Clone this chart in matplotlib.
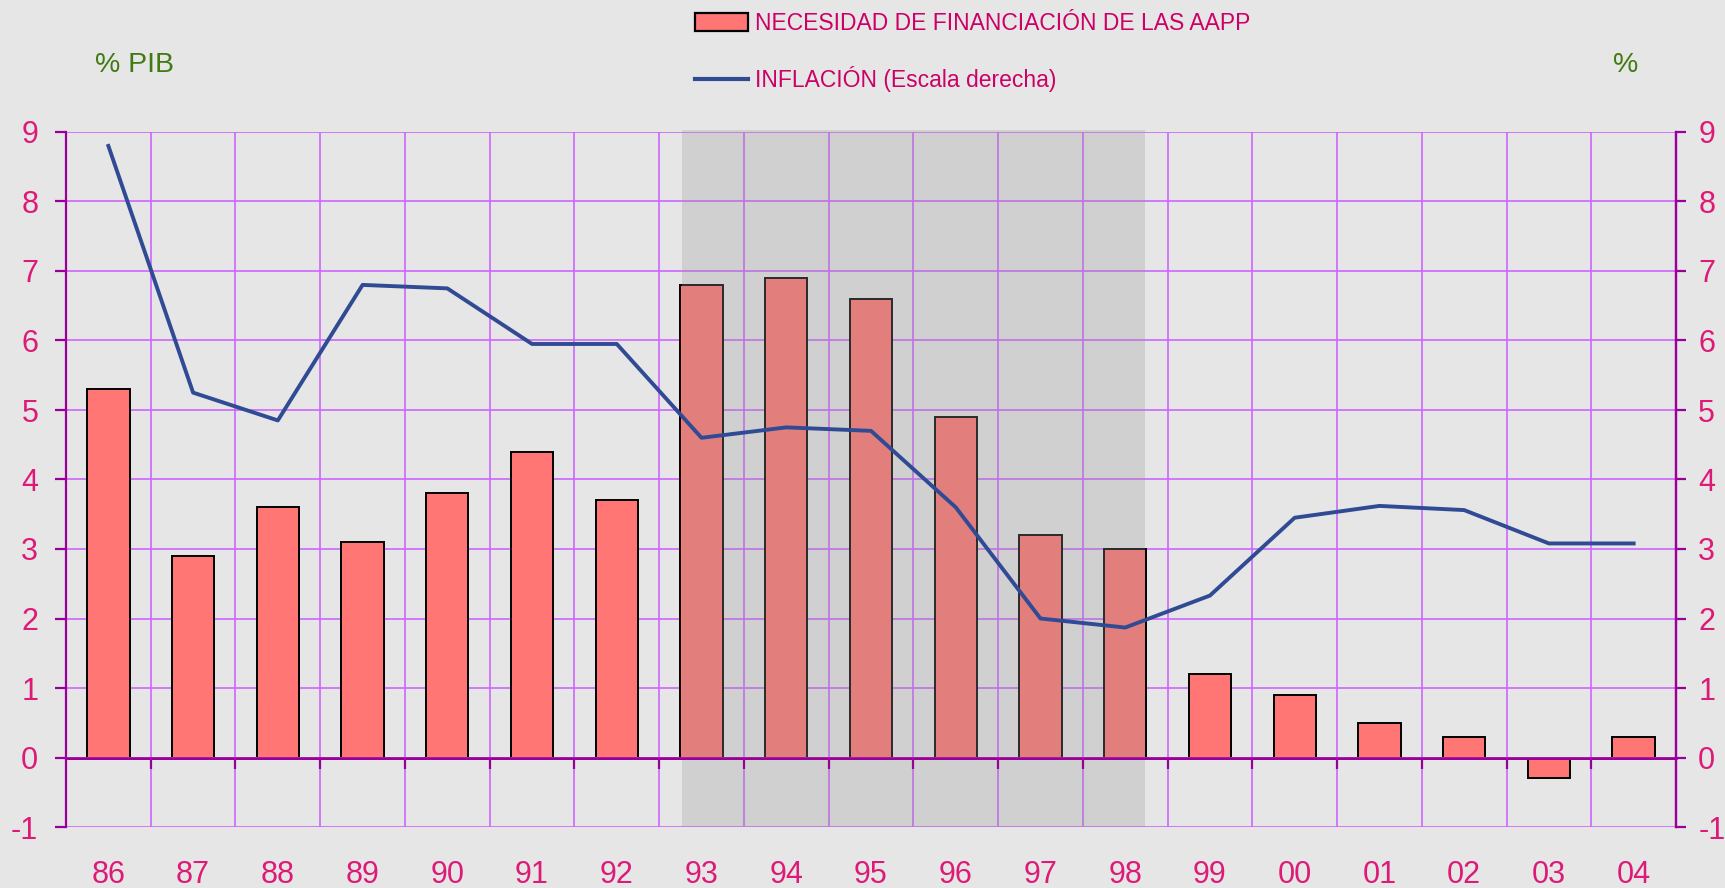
import matplotlib
matplotlib.use("Agg")
import matplotlib.pyplot as plt
from matplotlib.patches import Patch
from matplotlib.lines import Line2D

years = ["86", "87", "88", "89", "90", "91", "92", "93", "94", "95",
         "96", "97", "98", "99", "00", "01", "02", "03", "04"]
necesidad = [5.3, 2.9, 3.6, 3.1, 3.8, 4.4, 3.7, 6.8, 6.9, 6.6,
             4.9, 3.2, 3.0, 1.2, 0.9, 0.5, 0.3, -0.3, 0.3]
inflacion = [8.8, 5.25, 4.85, 6.8, 6.75, 5.95, 5.95, 4.6, 4.75, 4.7,
             3.6, 2.0, 1.87, 2.33, 3.45, 3.62, 3.56, 3.08, 3.08]
yticks = list(range(-1, 10))
shade_from, shade_to = "93", "98"

BG = "#e6e6e6"
GRID = "#cc66ff"
DARK = "#990099"
TICKC = "#dd1a77"
LEGC = "#cc0066"
GREEN = "#3f7a12"
BAR = "#ff7674"
LINE = "#304b94"

plt.rcParams['font.family'] = ['Liberation Sans', 'DejaVu Sans']

W, H = 1725, 888
L, R, T, B = 66, 1676, 132, 827
fig = plt.figure(figsize=(W/100, H/100), dpi=100, facecolor=BG)
ax = fig.add_axes([L/W, 1-B/H, (R-L)/W, (B-T)/H])
ax.set_facecolor(BG)

x = list(range(len(years)))
bw = 0.5
ax.bar(x, necesidad, width=bw, color=BAR, edgecolor="black", linewidth=1.4, zorder=2)

i0 = years.index(shade_from)
i1 = years.index(shade_to)
ax.axvspan(i0 - bw/2 + 0.02, i1 + bw/2 - 0.02, ymin=0, ymax=1.003,
           color=(151/255, 151/255, 151/255),
           alpha=0.28, zorder=3, linewidth=0, clip_on=False)
ax.axhline(0, color=DARK, linewidth=2.0, zorder=4)

ax.set_xlim(-0.5, len(years) - 0.5)
ax.set_ylim(-1, 9)
ax.set_yticks(yticks)
ax.set_yticklabels([str(v) for v in yticks])
ax.set_xticks(x)
ax.set_xticklabels(years)
ax.set_xticks([i + 0.5 for i in x[:-1]], minor=True)
ax.set_axisbelow(True)
ax.grid(True, which="minor", axis="x", color=GRID, linewidth=1.2, zorder=0)
ax.grid(True, which="major", axis="y", color=GRID, linewidth=1.2, zorder=0)
ax.tick_params(axis="x", which="both", length=0, labelsize=22, labelcolor=TICKC, pad=24)
ax.tick_params(axis="y", which="major", direction="out", length=8, width=1.6,
               color=DARK, labelsize=22, labelcolor=TICKC, pad=12)
for s in ["top", "bottom"]:
    ax.spines[s].set_visible(False)
ax.spines["left"].set_color(DARK)
ax.spines["left"].set_linewidth(1.6)
ax.spines["right"].set_color(DARK)
ax.spines["right"].set_linewidth(1.6)

# boundary ticks hanging below the zero line
sec = ax.secondary_xaxis(location=(0 - (-1)) / 10)
sec.set_xticks([i + 0.5 for i in x[:-1]])
sec.set_xticklabels([])
sec.tick_params(direction="out", length=8, width=1.6, color=DARK)
sec.spines["bottom"].set_color(DARK)
sec.spines["bottom"].set_linewidth(2.0)
sec.set_zorder(6)

ax2 = ax.twinx()
ax2.set_ylim(-1, 9)
ax2.set_yticks(yticks)
ax2.set_yticklabels([str(v) for v in yticks])
ax2.tick_params(axis="y", direction="out", length=7, width=1.6, color=DARK,
                labelsize=22, labelcolor=TICKC, pad=9)
for s in ["top", "bottom", "left"]:
    ax2.spines[s].set_visible(False)
ax2.spines["right"].set_color(DARK)
ax2.spines["right"].set_linewidth(1.6)
ax2.plot(x, inflacion, color=LINE, linewidth=2.8, zorder=5)

fig.text(95/W, 1-72/H, "% PIB", color=GREEN, fontsize=20.5, va="baseline", ha="left")
fig.text(1638/W, 1-72/H, "%", color=GREEN, fontsize=20.5, va="baseline", ha="right")

handles = [Patch(facecolor=BAR, edgecolor="black", linewidth=1.6),
           Line2D([0], [0], color=LINE, linewidth=3)]
labels = ["NECESIDAD DE FINANCIACIÓN DE LAS AAPP", "INFLACIÓN (Escala derecha)"]
leg = fig.legend(handles, labels, loc="upper left", bbox_to_anchor=(695/W, 1-12/H),
                 frameon=False, fontsize=16.5, handlelength=2.3, handleheight=0.8,
                 handletextpad=0.3, labelspacing=1.35, borderpad=0, borderaxespad=0)
for t in leg.get_texts():
    t.set_color(LEGC)

fig.savefig("out.png", dpi=100, facecolor=BG)
